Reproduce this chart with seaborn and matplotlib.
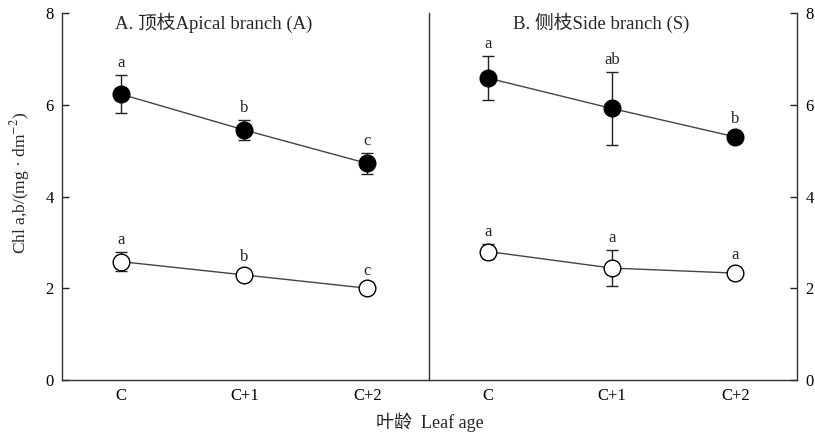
import matplotlib
matplotlib.use("Agg")
import matplotlib.pyplot as plt
import seaborn as sns
import pandas as pd
import numpy as np

sns.set_theme(style="white")
plt.rcParams['font.family'] = ['Liberation Serif', 'Noto Sans CJK SC']
plt.rcParams['mathtext.fontset'] = 'stix'

categories = ["C", "C+1", "C+2"]
apical_b_mean = [6.23, 5.45, 4.72]
apical_b_err = [0.41, 0.21, 0.22]
apical_a_mean = [2.58, 2.29, 2.00]
apical_a_err = [0.20, 0.0, 0.0]
side_b_mean = [6.58, 5.92, 5.30]
side_b_err = [0.48, 0.80, 0.07]
side_a_mean = [2.80, 2.44, 2.33]
side_a_err = [0.17, 0.40, 0.0]
apical_b_letters = ["a", "b", "c"]
apical_a_letters = ["a", "b", "c"]
side_b_letters = ["a", "ab", "b"]
side_a_letters = ["a", "a", "a"]
titles = ["A. 顶枝Apical branch (A)", "B. 侧枝Side branch (S)"]

fig = plt.figure(figsize=(8.15, 4.4), dpi=100)
axL = fig.add_axes([0.0761, 0.1364, 0.4503, 0.834])
axR = fig.add_axes([0.5264, 0.1364, 0.4515, 0.834])
axR.patch.set_visible(False)

panels = [
    (axL, [(apical_b_mean, apical_b_err, apical_b_letters, "black"),
           (apical_a_mean, apical_a_err, apical_a_letters, "white")]),
    (axR, [(side_b_mean, side_b_err, side_b_letters, "black"),
           (side_a_mean, side_a_err, side_a_letters, "white")]),
]

xpos = np.arange(len(categories))
for i, (ax, series) in enumerate(panels):
    for mean, err, letters, fc in series:
        df = pd.DataFrame({"x": xpos, "y": mean})
        ax.errorbar(xpos, mean, yerr=err, fmt="none", ecolor="#222222",
                    elinewidth=1.0, capsize=4, capthick=1.0, zorder=2)
        sns.lineplot(data=df, x="x", y="y", ax=ax, color="#444444", lw=1.0,
                     marker="o", markersize=12, markerfacecolor=fc,
                     markeredgecolor="black", markeredgewidth=1.0, zorder=3)
        for xi, m, e, lab in zip(xpos, mean, err, letters):
            top = m + max(e, 0.12)
            ax.annotate(lab, (xi, top), xytext=(0, 3), textcoords="offset points",
                        ha="center", va="bottom", fontsize=12)
    ax.set_xlim(-0.48, 2.5)
    ax.set_ylim(0, 8)
    ax.set_xticks(xpos)
    ax.set_xticklabels(categories, fontsize=12)
    ax.set_yticks([0, 2, 4, 6, 8])
    ax.set_xlabel("")
    ax.set_ylabel("")
    ax.tick_params(direction="in", length=5, width=1, colors="#222222", labelcolor="black", pad=6)
    ax.spines["top"].set_visible(False)
    for s in ax.spines.values():
        s.set_color("#333333")
        s.set_linewidth(1.0)
    ax.text(0.144 if i == 0 else 0.228, 1.0, titles[i], transform=ax.transAxes,
            ha="left", va="top", fontsize=13.5)

axL.spines["right"].set_visible(True)
axL.tick_params(axis="y", left=True, right=False, labelsize=12)
axL.set_ylabel("Chl a,b/(mg · dm$^{-2}$)", fontsize=12.5)
axL.yaxis.set_label_coords(-0.083, 0.537)
axR.spines["left"].set_visible(False)
axR.yaxis.tick_right()
axR.tick_params(axis="y", left=False, right=True, labelsize=12)

fig.text(0.528, 0.04, "叶龄  Leaf age", ha="center", va="center", fontsize=13)

fig.savefig("out.png", dpi=100)
